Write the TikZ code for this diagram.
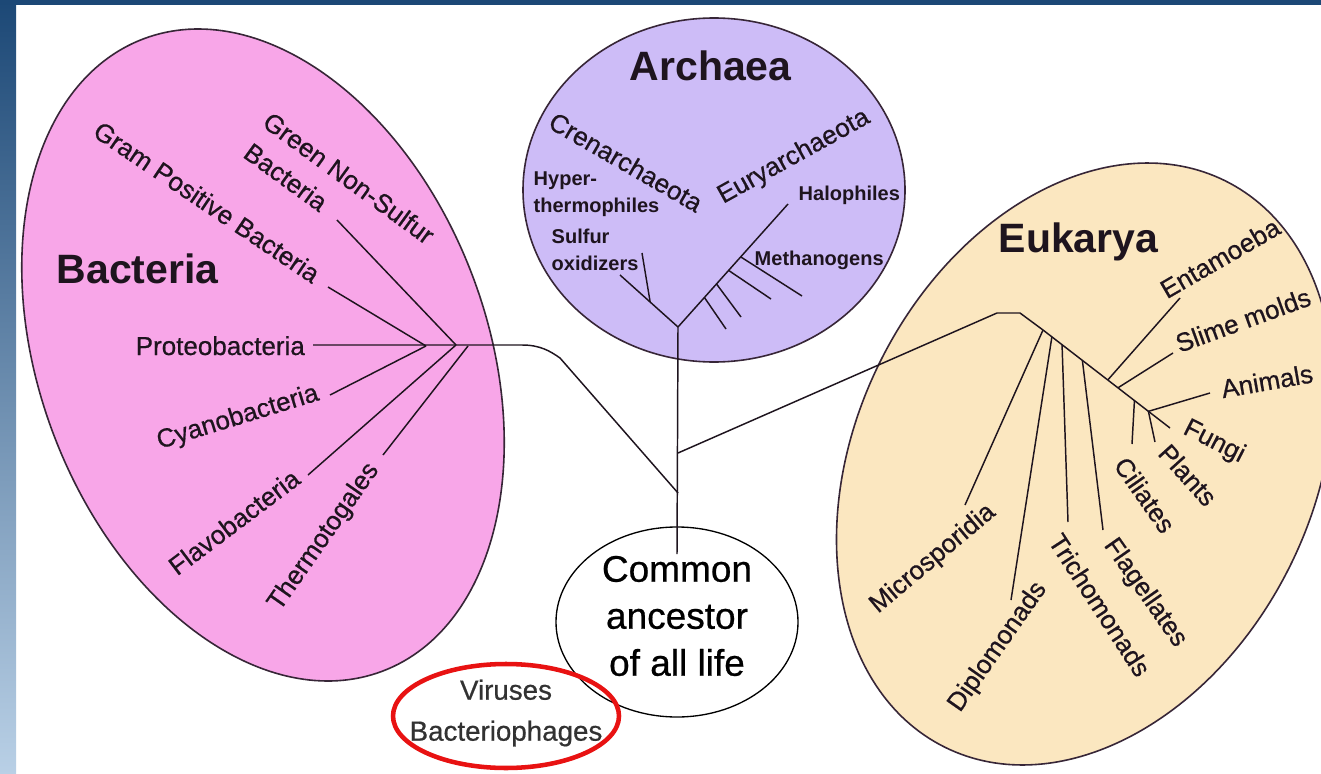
\documentclass[tikz,border=0pt]{standalone}
\usepackage{fontspec}
\setmainfont{Liberation Sans}
\newfontfamily\heavysans[FakeBold=0.6]{Liberation Sans}
\usetikzlibrary{calc}

\definecolor{frametop}{RGB}{28,72,118}
\definecolor{framebot}{RGB}{185,208,230}
\definecolor{bactpink}{RGB}{248,166,232}
\definecolor{archlav}{RGB}{205,188,247}
\definecolor{eukatan}{RGB}{251,231,192}
\definecolor{edgecol}{RGB}{55,38,55}
\definecolor{treeline}{RGB}{30,20,30}
\definecolor{virusred}{RGB}{232,18,18}
\definecolor{virustext}{RGB}{50,50,50}

\tikzset{every picture/.style={line width=1.1pt}}
\tikzset{
  lbl/.style={inner sep=0.75pt, text=treeline, font=\heavysans\fontsize{19.5}{22}\selectfont},
  domainlbl/.style={inner sep=0.75pt, text=treeline, font=\fontsize{30.75}{34}\selectfont\bfseries},
  arch/.style={inner sep=0.75pt, text=treeline, font=\fontsize{15}{17}\selectfont\bfseries},
  blob/.style={draw=edgecol, line width=1.2pt},
}

\begin{document}
\begin{tikzpicture}[x=0.75pt,y=0.75pt,yscale=-1,xscale=1]
\clip (0,0) rectangle (1321,774);
\fill[white] (0,0) rectangle (1321,774);

%Shape: Rectangle (slide frame)
\shade[top color=frametop, bottom color=framebot] (0,0) rectangle (16,774);
\fill[frametop] (0,0) rectangle (1321,5);

%Shape: Ellipse (Bacteria)
\draw[blob, fill=bactpink, rotate around={69.3:(263,355)}] (263,355) ellipse [x radius=338, y radius=224];
%Shape: Ellipse (Archaea)
\draw[blob, fill=archlav] (714,190) ellipse [x radius=191, y radius=172];
%Shape: Ellipse (Eukarya)
\draw[blob, fill=eukatan, rotate around={-63.7:(1085,464)}] (1085,464) ellipse [x radius=316, y radius=229];
%Shape: Ellipse (common ancestor)
\draw[draw=black, line width=1pt, fill=white] (677,622) ellipse [x radius=121, y radius=95];
%Shape: Ellipse (red mark)
\draw[virusred, line width=3.4pt] (506,716) ellipse [x radius=113, y radius=52];

% Text Node
\node (ancestor) [inner sep=0.75pt, align=center, font=\heavysans\fontsize{27.75}{35.25}\selectfont] at (677,616) {Common\\ancestor\\of all life};
% Text Node
\node (viruses) [inner sep=0.75pt, align=center, text=virustext, font=\heavysans\fontsize{20.8}{30.75}\selectfont] at (506,713) {Viruses\\Bacteriophages};

% tree points
\coordinate (afork) at (678,327);
\coordinate (tjoinE) at (678,453);
\coordinate (tjoinB) at (678,493);
\coordinate (bhub) at (456,345);
\coordinate (bhubin) at (426,346);
\coordinate (bhubR) at (468,346);
\coordinate (bbend) at (522,345);
\coordinate (bcurve) at (560,358);
\coordinate (gnsE) at (337,220);
\coordinate (gpE) at (328,287);
\coordinate (proE) at (313,345);
\coordinate (cyaE) at (330,395);
\coordinate (flaE) at (308,475);
\coordinate (theE) at (383,455);
\coordinate (aleft) at (620,275);
\coordinate (asubE) at (642,253);
\coordinate (aright) at (788,204);
\coordinate (eknee) at (997,313);
\coordinate (eknee2) at (1020,313);
\coordinate (ehub) at (1043,330);
\coordinate (fungiE) at (1170,428);

%Straight Lines
\draw[treeline] (afork) -- (ancestor.north);
\draw[treeline] (afork) -- (aleft);
\draw[treeline] ($(afork)!0.48!(aleft)$) -- (asubE);
\draw[treeline] (afork) -- (aright);
\foreach \t/\ex/\ey [count=\i] in {0.24/726/329, 0.35/741/317, 0.46/771/299, 0.57/802/296}{
  \coordinate (mtick\i) at (\ex,\ey);
  \draw[treeline] ($(afork)!\t!(aright)$) -- (mtick\i);
}
\draw[treeline] (gnsE) -- (bhub);
\draw[treeline] (gpE) -- (bhubin);
\draw[treeline] (cyaE) -- (bhubin);
\draw[treeline] (flaE) -- (bhub);
\draw[treeline] (theE) -- (bhubR);
\draw[treeline] (proE) -- (bbend) .. controls (540,345) and (550,351) .. (bcurve) -- (tjoinB);
\draw[treeline] (tjoinE) -- (eknee) -- (eknee2) -- (ehub) -- (fungiE);
\foreach \t/\ex/\ey [count=\i] in {0.00/965/505, 0.07/1011/600, 0.15/1068/522, 0.31/1103/530, 0.51/1180/298, 0.59/1173/353, 0.72/1132/444, 0.83/1155/442, 0.83/1210/393}{
  \coordinate (ebr\i) at (\ex,\ey);
  \draw[treeline] ($(ehub)!\t!(fungiE)$) -- (ebr\i);
}

% Text Node
\node (bacteria) [domainlbl, anchor=base west] at (55,283) {Bacteria};
\node (archaea) [domainlbl, anchor=base west] at (628,80) {Archaea};
\node (eukarya) [domainlbl, anchor=base west] at (997,252) {Eukarya};

% Text Node
\node (gns) [lbl, rotate=-36] at (349,178) {Green Non-Sulfur};
\node (gnsb) [lbl, rotate=-36] at (286,177) {Bacteria};
\node (gram) [lbl, rotate=-34] at (207,202) {Gram Positive Bacteria};
\node (proteo) [lbl, anchor=base west] at (134,355) {Proteobacteria};
\node (cyano) [lbl, rotate=17] at (238,418) {Cyanobacteria};
\node (flavo) [lbl, rotate=37] at (234,522) {Flavobacteria};
\node (thermo) [lbl, rotate=55] at (324,537) {Thermotogales};

% Text Node
\node (cren) [lbl, rotate=-30] at (626,162) {Crenarchaeota};
\node (eury) [lbl, rotate=29] at (794,157) {Euryarchaeota};
\node (hyper) [arch, anchor=base west] at (532,185) {Hyper-};
\node (thermoph) [arch, anchor=base west] at (532,212) {thermophiles};
\node (sulfur) [arch, anchor=base west] at (550,243) {Sulfur};
\node (oxid) [arch, anchor=base west] at (550,270) {oxidizers};
\node (halo) [arch, anchor=base west] at (797,200) {Halophiles};
\node (metha) [arch, anchor=base west] at (753,265) {Methanogens};

% Text Node
\node (entam) [lbl, rotate=30] at (1220,258) {Entamoeba};
\node (slime) [lbl, rotate=20] at (1243,320) {Slime molds};
\node (animals) [lbl, rotate=10] at (1267,381) {Animals};
\node (fungi) [lbl, rotate=-27] at (1214,442) {Fungi};
\node (plants) [lbl, rotate=-48] at (1188,475) {Plants};
\node (ciliates) [lbl, rotate=-55] at (1145,495) {Ciliates};
\node (flagell) [lbl, rotate=-55] at (1145,593) {Flagellates};
\node (tricho) [lbl, rotate=-57] at (1100,605) {Trichomonads};
\node (diplo) [lbl, rotate=55] at (998,647) {Diplomonads};
\node (micro) [lbl, rotate=40] at (933,559) {Microsporidia};

\end{tikzpicture}
\end{document}
